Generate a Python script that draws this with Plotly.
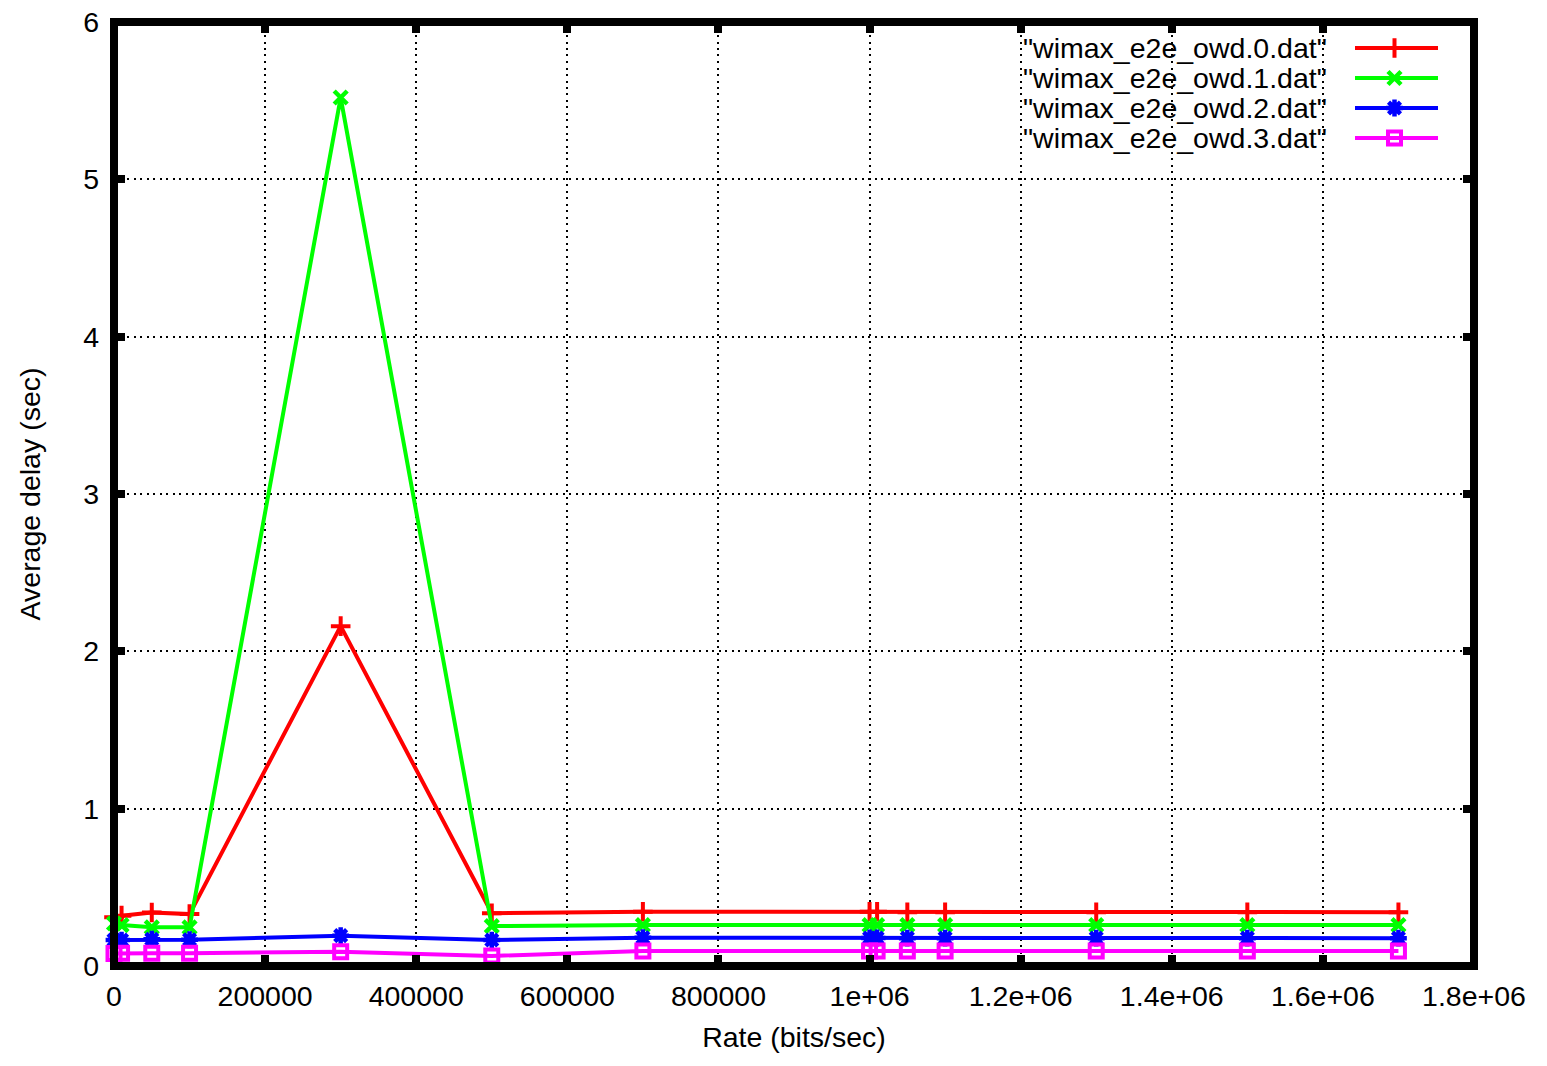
import plotly.graph_objects as go

# Offered rate (bits/sec) for each run
rate = [0, 10000, 50000, 100000, 300000, 500000, 700000,
        1000000, 1010000, 1050000, 1100000, 1300000, 1500000, 1700000]

# Average one-way delay (sec) per flow file
owd_0 = [0.31, 0.32, 0.34, 0.33, 2.16, 0.335, 0.345,
         0.345, 0.345, 0.342, 0.342, 0.342, 0.342, 0.342]
owd_1 = [0.27, 0.26, 0.246, 0.246, 5.52, 0.254, 0.26,
         0.26, 0.26, 0.26, 0.26, 0.26, 0.26, 0.26]
owd_2 = [0.165, 0.165, 0.17, 0.167, 0.193, 0.165, 0.18,
         0.178, 0.178, 0.177, 0.177, 0.177, 0.177, 0.177]
owd_3 = [0.08, 0.081, 0.081, 0.081, 0.091, 0.064, 0.095,
         0.095, 0.095, 0.095, 0.095, 0.095, 0.095, 0.095]

series_names = ['"wimax_e2e_owd.0.dat"', '"wimax_e2e_owd.1.dat"',
                '"wimax_e2e_owd.2.dat"', '"wimax_e2e_owd.3.dat"']

x_tickvals = [0, 200000, 400000, 600000, 800000, 1000000,
              1200000, 1400000, 1600000, 1800000]
x_ticktext = ["0", "200000", "400000", "600000", "800000", "1e+06",
              "1.2e+06", "1.4e+06", "1.6e+06", "1.8e+06"]
y_tickvals = [0, 1, 2, 3, 4, 5, 6]
y_ticktext = ["0", "1", "2", "3", "4", "5", "6"]

# gnuplot-like point styles: +, x, *, open square
styles = [
    dict(color="#ff0000", symbol="cross-thin", size=14, lw=4),
    dict(color="#00ff00", symbol="x-thin", size=13, lw=4.5),
    dict(color="#0000ff", symbol="asterisk", size=14, lw=4.5),
    dict(color="#ff00ff", symbol="square-open", size=13, lw=4),
]

FONT = "Liberation Sans, Arial, sans-serif"
FS = 28.5

fig = go.Figure()
for ys, name, st in zip([owd_0, owd_1, owd_2, owd_3], series_names, styles):
    fig.add_trace(go.Scatter(
        x=rate, y=ys, name=name, mode="lines+markers",
        line=dict(color=st["color"], width=4),
        marker=dict(symbol=st["symbol"], size=st["size"], color=st["color"],
                    line=dict(color=st["color"], width=st["lw"])),
        cliponaxis=False, showlegend=False,
    ))

# Key drawn in gnuplot fashion: right-aligned title followed by the sample
key_text_right = 1329
key_line = (1355, 1438)
key_rows = [48, 78, 108, 138]
for name, st, yk in zip(series_names, styles, key_rows):
    fig.add_trace(go.Scatter(
        x=[key_line[0], key_line[1]], y=[yk, yk], mode="lines",
        line=dict(color=st["color"], width=4),
        xaxis="x2", yaxis="y2", showlegend=False, hoverinfo="skip",
        cliponaxis=False,
    ))
    fig.add_trace(go.Scatter(
        x=[(key_line[0] + key_line[1]) / 2 - 2], y=[yk], mode="markers",
        marker=dict(symbol=st["symbol"], size=st["size"], color=st["color"],
                    line=dict(color=st["color"], width=st["lw"])),
        xaxis="x2", yaxis="y2", showlegend=False, hoverinfo="skip",
        cliponaxis=False,
    ))
    fig.add_annotation(
        x=key_text_right, y=yk, xref="x2", yref="y2", text=name,
        showarrow=False, xanchor="right", yanchor="middle",
        font=dict(family=FONT, size=FS, color="black"),
    )

L, R, T, B = 114, 73, 22, 100
W, H = 1547, 1066

grid = dict(showgrid=True, gridcolor="black", gridwidth=1.6, griddash="2px,4.5px",
            zeroline=False, ticks="inside", ticklen=11, tickwidth=8,
            tickcolor="black", mirror="ticks", showline=False,
            automargin=False,
            tickfont=dict(family=FONT, size=FS, color="black"))

fig.update_layout(
    width=W, height=H,
    margin=dict(l=L, r=R, t=T, b=B, pad=0, autoexpand=False),
    paper_bgcolor="white", plot_bgcolor="white",
    font=dict(family=FONT, size=FS, color="black"),
    xaxis=dict(range=[0, 1800000], tickmode="array", tickvals=x_tickvals,
               ticktext=x_ticktext, ticklabelstandoff=10,
               title=dict(text="Rate (bits/sec)", standoff=16,
                          font=dict(family=FONT, size=FS)),
               **grid),
    yaxis=dict(range=[0, 6], tickmode="array", tickvals=y_tickvals,
               ticktext=y_ticktext, ticklabelstandoff=14,
               title=dict(text="Average delay (sec)", standoff=34,
                          font=dict(family=FONT, size=FS)),
               **grid),
    xaxis2=dict(overlaying="x", range=[L, W - R], visible=False,
                fixedrange=True),
    yaxis2=dict(overlaying="y", range=[H - B, T], visible=False,
                fixedrange=True),
    shapes=[dict(type="rect", xref="paper", yref="paper", x0=0, x1=1,
                 y0=0, y1=1, line=dict(color="black", width=8),
                 layer="above")],
)

fig.write_html("out.html")
